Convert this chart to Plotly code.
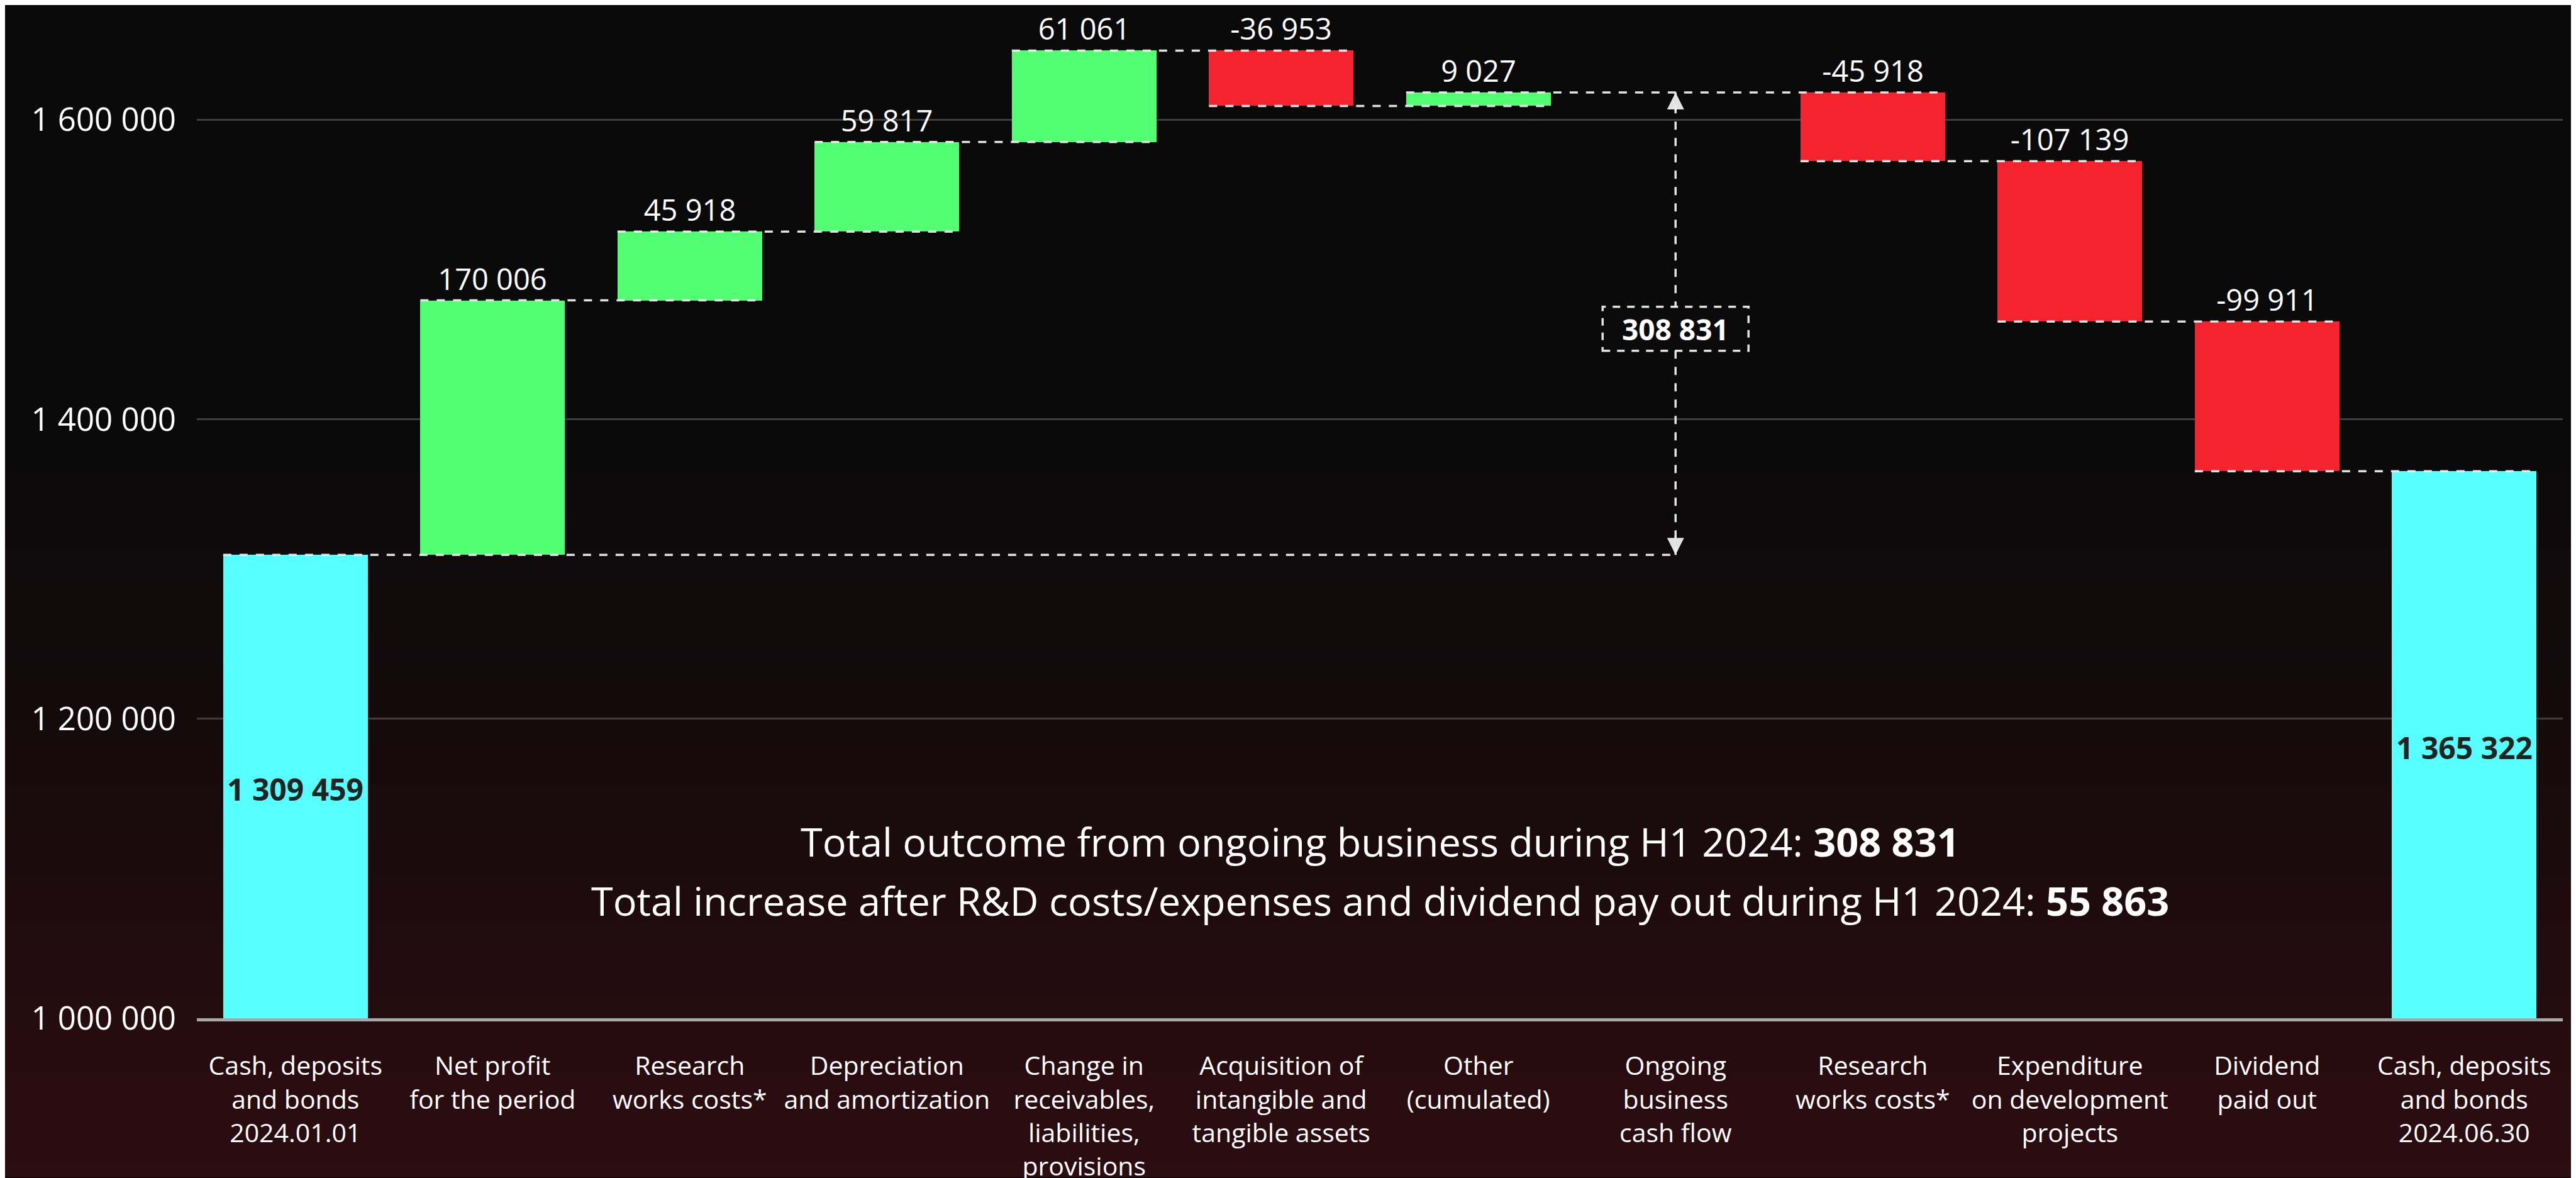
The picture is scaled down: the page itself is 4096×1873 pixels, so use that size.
import plotly.graph_objects as go

# ---------------- data ----------------
categories = [
    "Cash, deposits<br>and bonds<br>2024.01.01",
    "Net profit<br>for the period",
    "Research<br>works costs*",
    "Depreciation<br>and amortization",
    "Change in<br>receivables,<br>liabilities,<br>provisions",
    "Acquisition of<br>intangible and<br>tangible assets",
    "Other<br>(cumulated)",
    "Ongoing<br>business<br>cash flow",
    "Research<br>works costs*",
    "Expenditure<br>on development<br>projects",
    "Dividend<br>paid out",
    "Cash, deposits<br>and bonds<br>2024.06.30",
]
values = [1309459, 170006, 45918, 59817, 61061, -36953, 9027,
          308831, -45918, -107139, -99911, 1365322]
kinds = ["total", "delta", "delta", "delta", "delta", "delta", "delta",
         "subtotal", "delta", "delta", "delta", "total"]
ytick_vals = [1000000, 1200000, 1400000, 1600000]
summary_labels = ["Total outcome from ongoing business during H1 2024: ",
                  "Total increase after R&D costs/expenses and dividend pay out during H1 2024: "]

# ---------------- styles ----------------
FONT = "Open Sans"
C_TOTAL = "#58FFFF"
C_UP = "#52FF72"
C_DOWN = "#F4232D"
DASH = dict(color="rgba(238,238,238,0.95)", width=3.5, dash="13px,13px")
BAR_W = 0.733
W, H = 4096, 1873
ML, MR, MT, MB = 305, 29, 0, 253
PLOT_H = H - MT - MB
PX_PER_200K = 478.8
Y_BOTTOM = ytick_vals[0]
Y_TOP = Y_BOTTOM + PLOT_H / PX_PER_200K * 200000


def fmt(v):
    return f"{v:,}".replace(",", " ")


# ---------------- compute waterfall geometry from data ----------------
idx = list(range(len(values)))
level = 0
bars = []          # (i, base, height, kind, value)
end_levels = {}
sub_idx = None
bracket = None
for i, (v, k) in enumerate(zip(values, kinds)):
    if k == "total":
        bars.append((i, 0, v, k, v))
        level = v
        end_levels[i] = v
    elif k == "delta":
        s, e = level, level + v
        bars.append((i, min(s, e), abs(v), k, v))
        level = e
        end_levels[i] = e
    else:  # subtotal bracket (no bar)
        sub_idx = i
        bracket = (values[0], values[0] + v)

fig = go.Figure()

groups = {
    "total": [b for b in bars if b[3] == "total"],
    "up": [b for b in bars if b[3] == "delta" and b[4] > 0],
    "down": [b for b in bars if b[3] == "delta" and b[4] < 0],
}

g = groups["total"]
fig.add_trace(go.Bar(
    x=[b[0] for b in g], y=[b[2] for b in g], base=[b[1] for b in g],
    width=BAR_W, marker=dict(color=C_TOTAL, line=dict(width=0)),
    hoverinfo="skip", showlegend=False,
))
for key, col in (("up", C_UP), ("down", C_DOWN)):
    g = groups[key]
    fig.add_trace(go.Bar(
        x=[b[0] for b in g], y=[b[2] for b in g], base=[b[1] for b in g],
        width=BAR_W, marker=dict(color=col, line=dict(width=0)),
        text=[fmt(b[4]) for b in g], textposition="outside", constraintext="none",
        outsidetextfont=dict(family=FONT, size=47, color="#FFFFFF"),
        cliponaxis=False, hoverinfo="skip", showlegend=False,
    ))

# ---------------- connectors ----------------
shapes = []
bar_order = [b[0] for b in bars]
for a, b in zip(bar_order[:-1], bar_order[1:]):
    y = end_levels[a]
    x0 = a - BAR_W / 2
    x1 = b + BAR_W / 2
    if a == 0 and sub_idx is not None:
        x1 = max(x1, sub_idx)
    shapes.append(dict(type="line", xref="x", yref="y", x0=x0, x1=x1, y0=y, y1=y,
                       line=DASH, layer="above"))

mid = None
if sub_idx is not None:
    shapes.append(dict(type="line", xref="x", yref="y", x0=sub_idx, x1=sub_idx,
                       y0=bracket[0], y1=bracket[1], line=DASH, layer="above"))
    mid = (bracket[0] + bracket[1]) / 2
    shapes.append(dict(type="rect", xref="x", yref="y", xsizemode="pixel", ysizemode="pixel",
                       xanchor=sub_idx, yanchor=mid, x0=-116, x1=116, y0=-43, y1=27,
                       fillcolor="#0B0B0B",
                       line=dict(color="rgba(238,238,238,0.95)", width=3.5, dash="12px,11px"),
                       layer="above"))

# ---------------- background gradient ----------------
stops = [(0.0, (10, 10, 10)), (0.36, (10, 10, 10)), (0.48, (15, 10, 11)),
         (0.62, (21, 10, 12)), (0.75, (29, 11, 14)), (0.88, (38, 12, 15)),
         (1.0, (44, 13, 17))]


def grad(f):
    for (f0, c0), (f1, c1) in zip(stops[:-1], stops[1:]):
        if f0 <= f <= f1:
            t = (f - f0) / (f1 - f0) if f1 > f0 else 0
            return tuple(round(c0[j] + (c1[j] - c0[j]) * t) for j in range(3))
    return stops[-1][1]


NB = 110
bg = []
for k in range(NB):
    py0 = H * k / NB
    py1 = H * (k + 1) / NB + 1
    c = grad((k + 0.5) / NB)
    bg.append(dict(type="rect", xref="paper", yref="paper", x0=-0.2, x1=1.2,
                   y0=1 - (py1 - MT) / PLOT_H, y1=1 - (py0 - MT) / PLOT_H,
                   fillcolor=f"rgb{c}", line=dict(width=0), layer="below"))

fig.update_layout(shapes=bg + shapes)

# ---------------- annotations ----------------
ann = []
# labels inside the total bars (centred in the visible part of the bar)
for b in groups["total"]:
    ann.append(dict(x=b[0], y=(Y_BOTTOM + b[1] + b[2]) / 2, xref="x", yref="y",
                    text=f"<b>{fmt(b[4])}</b>", showarrow=False, yshift=-4,
                    font=dict(family=FONT, size=48, color="#222222")))

if sub_idx is not None:
    ann.append(dict(x=sub_idx, y=mid, xref="x", yref="y", text=f"<b>{fmt(values[sub_idx])}</b>",
                    showarrow=False, yshift=-8,
                    font=dict(family=FONT, size=46, color="#FFFFFF")))
    for yv, ay in ((bracket[1], 32), (bracket[0], -32)):
        ann.append(dict(x=sub_idx, y=yv, xref="x", yref="y", text="", showarrow=True,
                        ax=0, ay=ay, arrowhead=2, arrowsize=1.8, arrowwidth=3,
                        arrowcolor="rgba(238,238,238,0.95)", standoff=0))

total_increase = values[-1] - values[0]
ann.append(dict(x=0.5, y=1 - (1337 - MT) / PLOT_H, xref="paper", yref="paper",
                yanchor="middle", xanchor="center",
                text=summary_labels[0] + f"<b>{fmt(values[sub_idx])}</b>",
                showarrow=False, font=dict(family=FONT, size=63, color="#FFFFFF")))
ann.append(dict(x=0.5, y=1 - (1431 - MT) / PLOT_H, xref="paper", yref="paper",
                yanchor="middle", xanchor="center",
                text=summary_labels[1] + f"<b>{fmt(total_increase)}</b>",
                showarrow=False, font=dict(family=FONT, size=63, color="#FFFFFF")))

fig.update_layout(
    annotations=ann,
    width=W, height=H,
    margin=dict(l=ML, r=MR, t=MT, b=MB, pad=0),
    paper_bgcolor="#0A0A0A",
    plot_bgcolor="rgba(0,0,0,0)",
    barmode="overlay",
    bargap=0,
    showlegend=False,
    font=dict(family=FONT, color="#FFFFFF"),
    xaxis=dict(
        range=[-0.5, len(values) - 0.5],
        tickmode="array", tickvals=idx, ticktext=categories,
        tickfont=dict(family=FONT, size=41, color="#FFFFFF"),
        showgrid=False, zeroline=False, ticks="",
        showline=True, linecolor="#A8A8A8", linewidth=5,
        ticklabelstandoff=36, fixedrange=True,
    ),
    yaxis=dict(
        range=[Y_BOTTOM, Y_TOP],
        tickmode="array", tickvals=ytick_vals, ticktext=[fmt(v) for v in ytick_vals],
        tickfont=dict(family=FONT, size=51, color="#FFFFFF"),
        showgrid=True, gridcolor="#3E3E3E", gridwidth=3,
        zeroline=False, showline=False, ticks="",
        ticklabelstandoff=32, fixedrange=True,
    ),
)

fig.write_html("out.html")
